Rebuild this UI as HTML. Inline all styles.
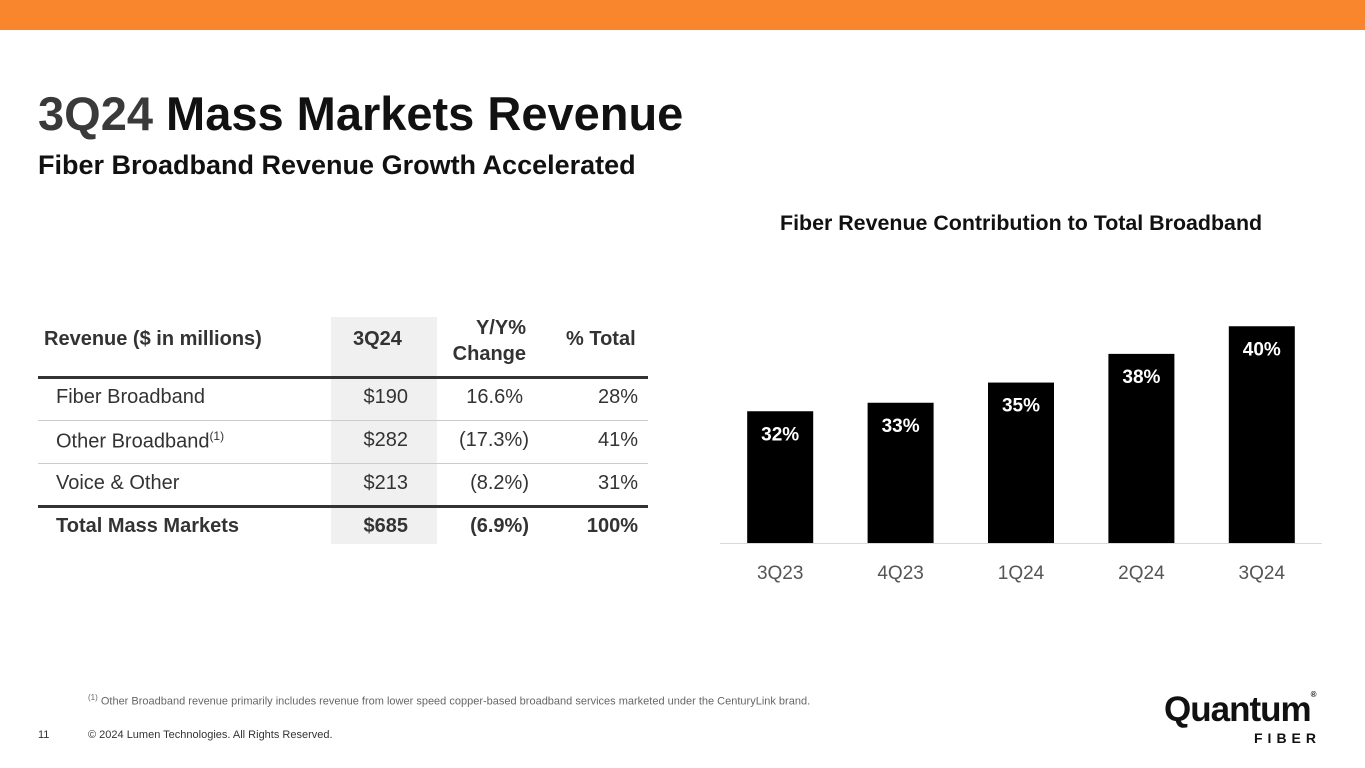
<!DOCTYPE html>
<html><head><meta charset="utf-8"><style>
body{margin:0;width:1365px;height:768px;position:relative;background:#fff;font-family:"Liberation Sans",sans-serif;overflow:hidden}
.abs{position:absolute}
.t{position:absolute;white-space:nowrap}
</style></head><body>
<div class="abs" style="left:0;top:0;width:1365px;height:30px;background:#f9862c"></div>
<div class="t" style="left:38px;top:86px;font-size:47px;font-weight:bold;color:#111"><span style="color:#3a3a3a">3Q24</span> Mass Markets Revenue</div>
<div class="t" style="left:38px;top:150px;font-size:27px;font-weight:bold;color:#111">Fiber Broadband Revenue Growth Accelerated</div>

<div class="abs" style="left:331px;top:317px;width:106px;height:227px;background:#f0f0f0"></div>
<div style="position:absolute;left:0;top:0;font-size:20px;color:#333">
<div class="t" style="left:44px;top:328px;font-weight:bold;font-size:20px">Revenue ($ in millions)</div>
<div class="t" style="left:353px;top:328px;font-weight:bold">3Q24</div>
<div class="t" style="left:440px;top:315px;width:86px;text-align:right;font-weight:bold;line-height:26px;white-space:normal">Y/Y%<br>Change</div>
<div class="t" style="left:566px;top:328px;font-weight:bold">% Total</div>
<div class="abs" style="left:38px;top:376px;width:610px;height:3px;background:#333"></div>
<div class="abs" style="left:38px;top:420px;width:610px;height:1px;background:#ccc"></div>
<div class="abs" style="left:38px;top:463px;width:610px;height:1px;background:#ccc"></div>
<div class="abs" style="left:38px;top:505px;width:610px;height:3px;background:#333"></div>
<div class="t" style="left:56px;top:386px">Fiber Broadband</div>
<div class="t" style="left:331px;top:386px;width:77px;text-align:right">$190</div>
<div class="t" style="left:440px;top:386px;width:83px;text-align:right">16.6%</div>
<div class="t" style="left:560px;top:386px;width:78px;text-align:right">28%</div>
<div class="t" style="left:56px;top:429px">Other Broadband<sup style="font-size:12px">(1)</sup></div>
<div class="t" style="left:331px;top:429px;width:77px;text-align:right">$282</div>
<div class="t" style="left:430px;top:429px;width:99px;text-align:right">(17.3%)</div>
<div class="t" style="left:560px;top:429px;width:78px;text-align:right">41%</div>
<div class="t" style="left:56px;top:472px">Voice &amp; Other</div>
<div class="t" style="left:331px;top:472px;width:77px;text-align:right">$213</div>
<div class="t" style="left:430px;top:472px;width:99px;text-align:right">(8.2%)</div>
<div class="t" style="left:560px;top:472px;width:78px;text-align:right">31%</div>
<div class="t" style="left:56px;top:515px;font-weight:bold">Total Mass Markets</div>
<div class="t" style="left:331px;top:515px;width:77px;text-align:right;font-weight:bold">$685</div>
<div class="t" style="left:430px;top:515px;width:99px;text-align:right;font-weight:bold">(6.9%)</div>
<div class="t" style="left:560px;top:515px;width:78px;text-align:right;font-weight:bold">100%</div>
</div>

<div class="t" style="left:780px;top:211px;font-size:21.4px;font-weight:bold;color:#111">Fiber Revenue Contribution to Total Broadband</div>
<svg id="chart" class="abs" style="left:0;top:0" width="1365" height="768"></svg>

<div class="t" style="left:88px;top:693px;font-size:11px;color:#666"><sup style="font-size:8px">(1)</sup> Other Broadband revenue primarily includes revenue from lower speed copper-based broadband services marketed under the CenturyLink brand.</div>
<div class="t" style="left:38px;top:729px;font-size:11px;color:#333">11</div>
<div class="t" style="left:88px;top:729px;font-size:11px;color:#333">© 2024 Lumen Technologies. All Rights Reserved.</div>
<div class="t" style="left:1164px;top:690px;font-size:35px;font-weight:bold;color:#111;letter-spacing:-1px">Quantum<span style="font-size:8px;vertical-align:top">®</span></div>
<div class="t" style="left:1254px;top:730px;font-size:14px;font-weight:bold;color:#111;letter-spacing:5px">FIBER</div>

<script>
const categories=["3Q23","4Q23","1Q24","2Q24","3Q24"];
const values=[32.0,32.8,34.7,37.4,40.0];
const labels=["32%","33%","35%","38%","40%"];
const svg=document.getElementById('chart');
const NS='http://www.w3.org/2000/svg';
const x0=720,x1=1322,base=543,vmin=19.6,k=10.625;
const band=(x1-x0)/categories.length;
const xc=i=>x0+band*(i+0.5);
const y=v=>base-(v-vmin)*k;
const bw=66;
const axis=document.createElementNS(NS,'line');
axis.setAttribute('x1',x0);axis.setAttribute('x2',x1);axis.setAttribute('y1',base+0.5);axis.setAttribute('y2',base+0.5);axis.setAttribute('stroke','#d9d9d9');


svg.appendChild(axis);
values.forEach((v,i)=>{
 const r=document.createElementNS(NS,'rect');
 r.setAttribute('x',xc(i)-bw/2);r.setAttribute('y',y(v));r.setAttribute('width',bw);r.setAttribute('height',base-y(v));r.setAttribute('fill','#000');
 
 
 svg.appendChild(r);
 const t=document.createElementNS(NS,'text');
 t.setAttribute('x',xc(i));t.setAttribute('y',y(v)+29);t.setAttribute('text-anchor','middle');t.setAttribute('fill','#fff');t.setAttribute('font-size','19');t.setAttribute('font-weight','bold');t.setAttribute('font-family','Liberation Sans, sans-serif');
 t.textContent=labels[i];
 
 
 svg.appendChild(t);
 const c=document.createElementNS(NS,'text');
 c.setAttribute('x',xc(i));c.setAttribute('y',579);c.setAttribute('text-anchor','middle');c.setAttribute('fill','#555');c.setAttribute('font-size','19');c.setAttribute('font-family','Liberation Sans, sans-serif');
 c.textContent=categories[i];
 
 
 svg.appendChild(c);
});
</script>
</body></html>
